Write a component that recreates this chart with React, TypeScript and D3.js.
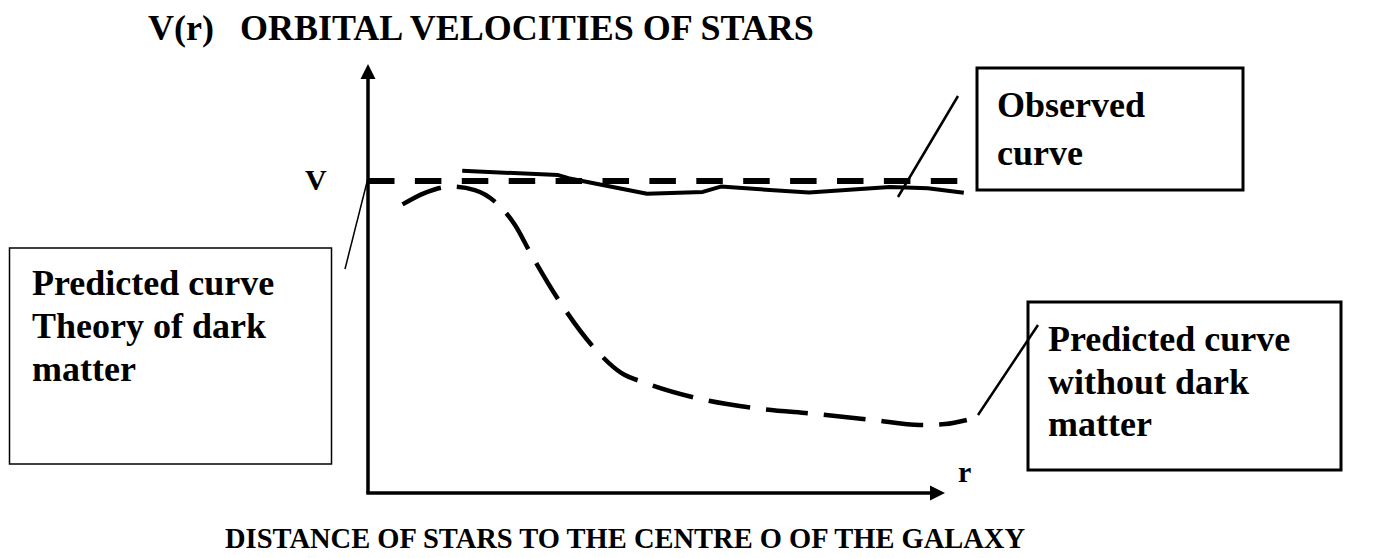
import React from "react";
import * as d3 from "d3";

const W = 1381;
const H = 558;

const titleLeft = "V(r)";
const titleRight = "ORBITAL VELOCITIES OF STARS";
const xAxisTitle = "DISTANCE OF STARS TO THE CENTRE O OF THE GALAXY";
const vLabel = "V";
const rLabel = "r";
const vLevel = 100;

const observedR = [15.7, 31.7, 33.4, 46.5, 55.8, 58.8, 73.5, 87, 93.3, 99.3];
const observedV = [103.3, 101.9, 100.9, 95.9, 96.5, 98.2, 96.3, 98.1, 97.7, 96.2];

const predictedR = [5.75, 9.5, 13.8, 17.8, 21.2, 24.5, 27, 32, 37.7, 42.2, 46.2, 54.8, 64.5, 74.7, 84.2, 92, 96.2, 99.8];
const predictedV = [92.5, 96.2, 98.2, 97.1, 93.3, 85.9, 77.2, 61.2, 46.5, 38.5, 35.3, 30.4, 27.2, 25.3, 23.4, 21.8, 22.1, 23.4];

const boxLeftLines = ["Predicted curve", "Theory of dark", "matter"];
const boxObservedLines = ["Observed", "curve"];
const boxRightLines = ["Predicted curve", "without dark", "matter"];

const FONT = "'Liberation Serif', 'Times New Roman', serif";

export default function App() {
  const x = d3.scaleLinear().domain([0, 100]).range([368, 968]);
  const y = d3.scaleLinear().domain([0, 100]).range([493, 181]);

  const obs = observedR.map((r, i) => [x(r), y(observedV[i])] as [number, number]);
  const pred = predictedR.map((r, i) => [x(r), y(predictedV[i])] as [number, number]);

  const lineLin = d3.line().curve(d3.curveLinear);
  const lineSmooth = d3.line().curve(d3.curveMonotoneX);

  const x0 = x(0);
  const y0 = y(0);
  const xEnd = 945;
  const yTop = 64;

  const textStyle = { fontFamily: FONT, fontWeight: 700 as const };

  return (
    <svg width={W} height={H} style={{ position: "absolute", left: 0, top: 0, background: "#fff" }}>
      {/* Title */}
      <text x={148} y={40} fontSize={36} {...textStyle}>{titleLeft}</text>
      <text x={240} y={40} fontSize={36} {...textStyle}>{titleRight}</text>

      {/* axes */}
      <line x1={x0} y1={y0} x2={x0} y2={yTop + 14} stroke="#000" strokeWidth={3.5} />
      <path d={`M${x0},${yTop} L${x0 - 7.5},${yTop + 15} L${x0 + 7.5},${yTop + 15} Z`} fill="#000" />
      <line x1={x0 - 1.75} y1={y0} x2={xEnd - 14} y2={y0} stroke="#000" strokeWidth={3.5} />
      <path d={`M${xEnd},${y0} L${xEnd - 15},${y0 - 7.5} L${xEnd - 15},${y0 + 7.5} Z`} fill="#000" />

      {/* V level dashed */}
      <line x1={x0} y1={y(vLevel)} x2={x(101.5)} y2={y(vLevel)} stroke="#000" strokeWidth={6} strokeDasharray="26.5,20.4" />

      {/* observed curve */}
      <path d={lineLin(obs) || ""} fill="none" stroke="#000" strokeWidth={4} strokeLinejoin="round" />

      {/* predicted without dark matter */}
      <path d={lineSmooth(pred) || ""} fill="none" stroke="#000" strokeWidth={4.5} strokeDasharray="42,16" />

      {/* labels */}
      <text x={305} y={190} fontSize={30} {...textStyle}>{vLabel}</text>
      <text x={958} y={482} fontSize={30} {...textStyle}>{rLabel}</text>
      <text x={225} y={548} fontSize={28.5} {...textStyle}>{xAxisTitle}</text>

      {/* left box */}
      <rect x={9.5} y={248} width={322} height={216} fill="none" stroke="#000" strokeWidth={1.5} />
      {boxLeftLines.map((t, i) => (
        <text key={i} x={32} y={295 + i * 43} fontSize={36} {...textStyle}>{t}</text>
      ))}
      <line x1={345} y1={269} x2={368} y2={178} stroke="#000" strokeWidth={1.5} />

      {/* observed box */}
      <rect x={977} y={68} width={266} height={122} fill="none" stroke="#000" strokeWidth={3} />
      {boxObservedLines.map((t, i) => (
        <text key={i} x={997} y={117 + i * 48} fontSize={36} {...textStyle}>{t}</text>
      ))}
      <line x1={898} y1={197} x2={958} y2={96} stroke="#000" strokeWidth={2.5} />

      {/* right box */}
      <rect x={1028} y={302} width={313} height={168} fill="none" stroke="#000" strokeWidth={3} />
      {boxRightLines.map((t, i) => (
        <text key={i} x={1048} y={351 + i * 42.5} fontSize={36} {...textStyle}>{t}</text>
      ))}
      <line x1={978} y1={415} x2={1038} y2={325} stroke="#000" strokeWidth={2.5} />
    </svg>
  );
}
